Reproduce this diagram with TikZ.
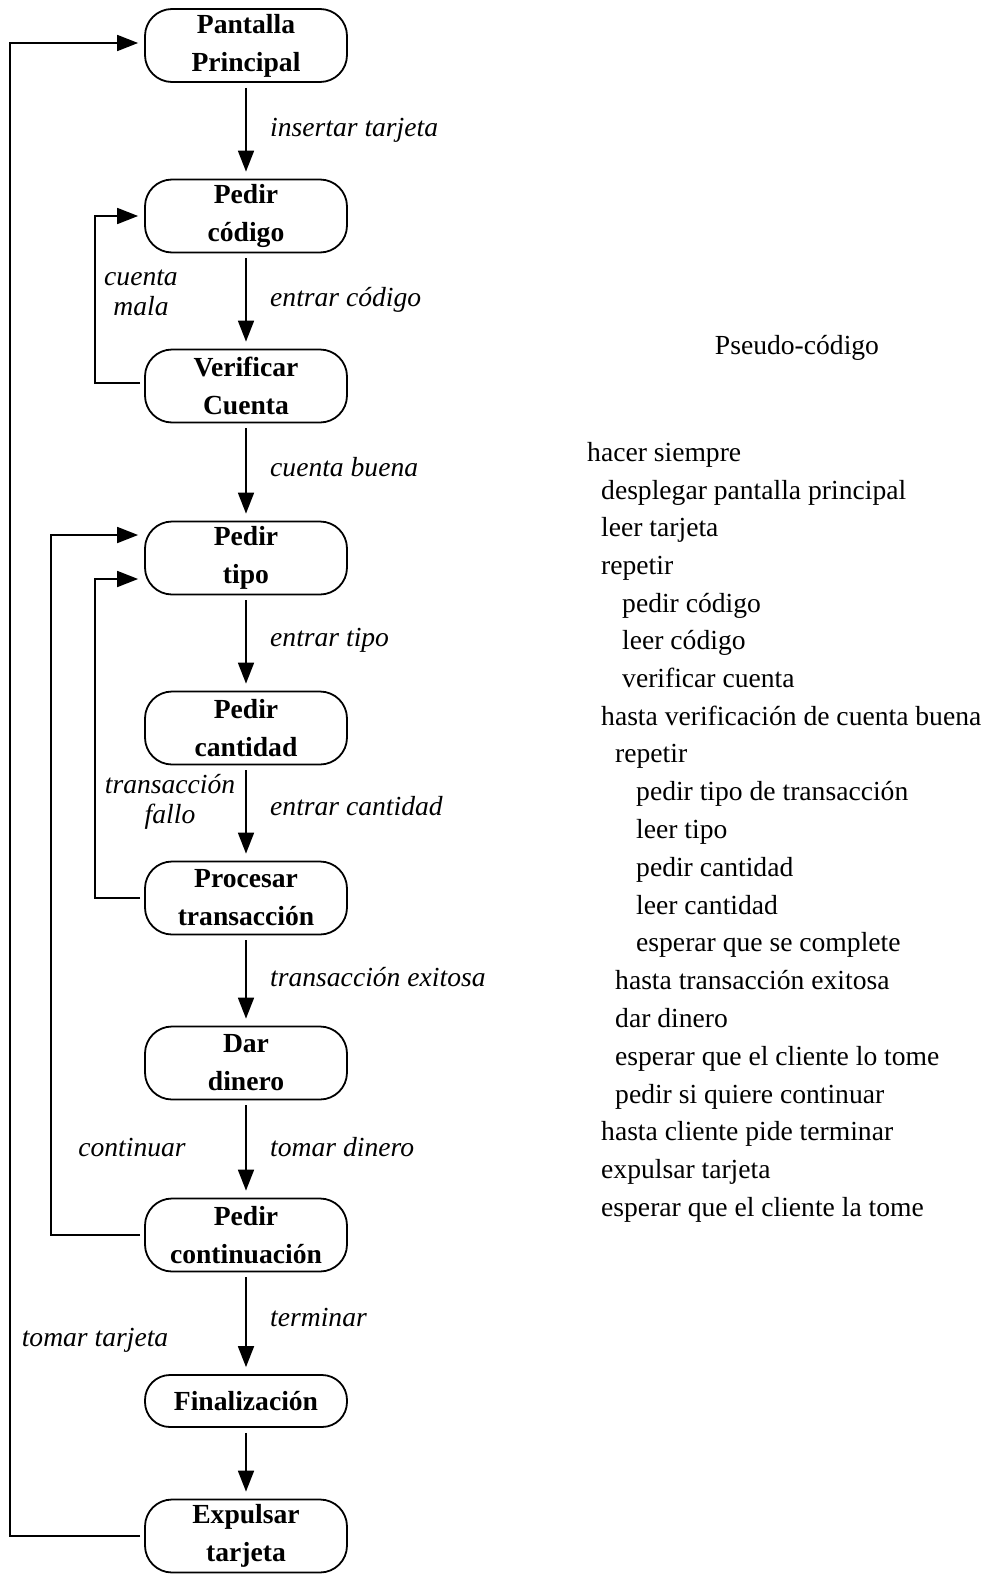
\documentclass[tikz,border=0pt]{standalone}
\usepackage{fontspec}
\setmainfont{Liberation Serif}
\usetikzlibrary{arrows.meta}
\begin{document}
\begin{tikzpicture}[x=1pt,y=-1pt,
  stbox/.style={draw,line width=1.8pt,rounded corners=27pt,minimum width=202pt,minimum height=73pt,
    align=center,inner sep=0pt,font=\fontsize{27.6}{38}\selectfont\bfseries},
  arr/.style={line width=1.8pt,-{Triangle[length=21pt,width=16pt]}},
  lbl/.style={font=\fontsize{27.6}{30}\selectfont\itshape,inner sep=0pt,align=center},
  slbl/.style={lbl,text height=22pt,text depth=4pt},
  code/.style={font=\fontsize{27.6}{34}\selectfont,inner sep=0pt,anchor=west,text height=24pt,text depth=2pt}]
\useasboundingbox (0,0) rectangle (990,1574);
% nodes
\node[stbox] (pan) at (246,45.5) {Pantalla\\Principal};
\node[stbox] (cod) at (246,216) {Pedir\\código};
\node[stbox] (ver) at (246,386) {Verificar\\Cuenta};
\node[stbox] (tip) at (246,558) {Pedir\\tipo};
\node[stbox] (can) at (246,728) {Pedir\\cantidad};
\node[stbox] (pro) at (246,898) {Procesar\\transacción};
\node[stbox] (dar) at (246,1063) {Dar\\dinero};
\node[stbox] (con) at (246,1235) {Pedir\\continuación};
\node[stbox,minimum height=52pt,rounded corners=25pt] (fin) at (246,1401) {Finalización};
\node[stbox] (exp) at (246,1536) {Expulsar\\tarjeta};
% vertical arrows
\foreach \a/\b in {pan/cod,cod/ver,ver/tip,tip/can,can/pro,pro/dar,dar/con,con/fin,fin/exp}
  \draw[arr,shorten <=5pt,shorten >=7pt] (\a.south) -- (\b.north);
% feedback loops
\draw[arr] ([xshift=-4pt]exp.west) -- ++(-130,0) |- ([xshift=-6pt,yshift=2.5pt]pan.west);
\draw[arr] ([xshift=-4pt,yshift=3pt]ver.west) -- ++(-45,0) |- ([xshift=-6pt]cod.west);
\draw[arr] ([xshift=-4pt]pro.west) -- ++(-45,0) |- ([xshift=-6pt,yshift=-21pt]tip.west);
\draw[arr] ([xshift=-4pt]con.west) -- ++(-89,0) |- ([xshift=-6pt,yshift=23pt]tip.west);
% labels
\node[slbl,anchor=west] (l1) at (270,127) {insertar tarjeta};
\node[slbl,anchor=west] (l2) at (270,297) {entrar código};
\node[lbl] (l3) at (141,293) {cuenta\\mala};
\node[slbl,anchor=west] (l4) at (270,467) {cuenta buena};
\node[slbl,anchor=west] (l5) at (270,637) {entrar tipo};
\node[lbl] (l6) at (170,802) {transacción\\fallo};
\node[slbl,anchor=west] (l7) at (270,806) {entrar cantidad};
\node[slbl,anchor=west] (l8) at (270,977) {transacción exitosa};
\node[slbl] (l9) at (132,1147) {continuar};
\node[slbl,anchor=west] (l10) at (270,1147) {tomar dinero};
\node[slbl,anchor=west] (l11) at (270,1317) {terminar};
\node[slbl] (l12) at (95,1337) {tomar tarjeta};
% pseudo code
\node[code,anchor=center] (title) at (797,343) {Pseudo-código};
\foreach \x/\y/\t in {
  587/450/hacer siempre,
  601/488/desplegar pantalla principal,
  601/525/leer tarjeta,
  601/563/repetir,
  622/601/pedir código,
  622/638/leer código,
  622/676/verificar cuenta,
  601/714/hasta verificación de cuenta buena,
  615/751/repetir,
  636/789/pedir tipo de transacción,
  636/827/leer tipo,
  636/865/pedir cantidad,
  636/903/leer cantidad,
  636/940/esperar que se complete,
  615/978/hasta transacción exitosa,
  615/1016/dar dinero,
  615/1054/esperar que el cliente lo tome,
  615/1092/pedir si quiere continuar,
  601/1129/hasta cliente pide terminar,
  601/1167/expulsar tarjeta,
  601/1205/esperar que el cliente la tome}
  \node[code] (c\y) at (\x,\y) {\t};
\end{tikzpicture}
\end{document}
